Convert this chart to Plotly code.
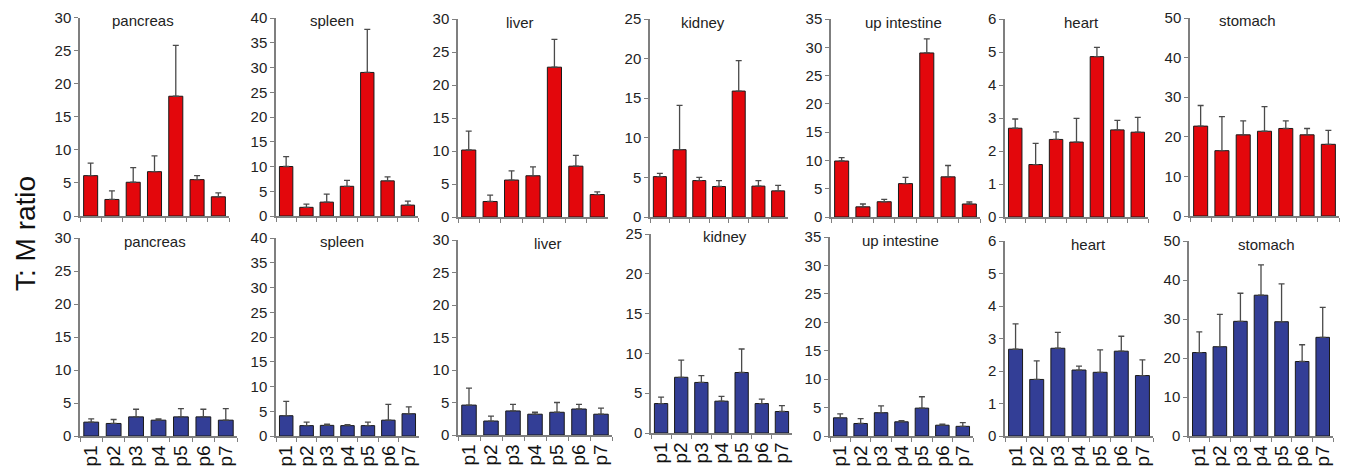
import plotly.graph_objects as go

W, H = 1351, 473
PAGE_PAD = 8  # default body margin of the html page

categories = ["p1", "p2", "p3", "p4", "p5", "p6", "p7"]
organs = ["pancreas", "spleen", "liver", "kidney", "up intestine", "heart", "stomach"]

# top row (red): bar values and upper whisker ends
top_vals = {
    "pancreas":     [6.1, 2.5, 5.1, 6.7, 18.1, 5.5, 2.9],
    "spleen":       [10.0, 1.75, 2.8, 6.0, 29.0, 7.1, 2.2],
    "liver":        [10.15, 2.35, 5.6, 6.25, 22.7, 7.7, 3.4],
    "kidney":       [5.1, 8.5, 4.6, 3.85, 15.9, 3.9, 3.3],
    "up intestine": [9.9, 1.8, 2.7, 5.9, 29.0, 7.1, 2.3],
    "heart":        [2.69, 1.59, 2.35, 2.27, 4.86, 2.64, 2.57],
    "stomach":      [22.7, 16.5, 20.5, 21.4, 22.1, 20.5, 18.1],
}
top_err = {
    "pancreas":     [8.0, 3.8, 7.3, 9.1, 25.8, 6.1, 3.5],
    "spleen":       [12.0, 2.4, 4.4, 7.2, 37.7, 7.9, 3.0],
    "liver":        [13.0, 3.3, 7.0, 7.6, 26.9, 9.35, 3.8],
    "kidney":       [5.5, 14.1, 5.0, 4.6, 19.75, 4.6, 4.0],
    "up intestine": [10.5, 2.3, 3.1, 7.0, 31.5, 9.1, 2.65],
    "heart":        [2.97, 2.23, 2.58, 2.99, 5.14, 2.93, 3.02],
    "stomach":      [27.9, 25.1, 24.0, 27.6, 24.0, 22.1, 21.6],
}
# bottom row (blue)
bot_vals = {
    "pancreas":     [2.1, 1.9, 2.9, 2.4, 2.9, 2.9, 2.4],
    "spleen":       [4.1, 2.1, 2.15, 2.1, 2.1, 3.2, 4.5],
    "liver":        [4.6, 2.15, 3.7, 3.2, 3.5, 4.0, 3.2],
    "kidney":       [3.7, 7.0, 6.35, 4.0, 7.6, 3.7, 2.7],
    "up intestine": [3.2, 2.2, 4.1, 2.5, 4.9, 1.9, 1.7],
    "heart":        [2.67, 1.74, 2.70, 2.03, 1.96, 2.61, 1.86],
    "stomach":      [21.4, 22.9, 29.4, 36.1, 29.3, 19.1, 25.3],
}
bot_err = {
    "pancreas":     [2.6, 2.5, 4.05, 2.6, 4.15, 4.05, 4.15],
    "spleen":       [7.0, 2.8, 2.4, 2.3, 2.8, 6.4, 5.9],
    "liver":        [7.2, 2.9, 4.7, 3.5, 5.0, 4.7, 4.15],
    "kidney":       [4.5, 9.15, 7.2, 4.6, 10.55, 4.25, 3.45],
    "up intestine": [3.9, 3.05, 5.3, 2.7, 6.9, 2.1, 2.35],
    "heart":        [3.45, 2.31, 3.19, 2.15, 2.65, 3.07, 2.34],
    "stomach":      [26.7, 31.2, 36.6, 43.9, 39.0, 23.4, 33.0],
}
y_max = {"pancreas": 30, "spleen": 40, "liver": 30, "kidney": 25,
         "up intestine": 35, "heart": 6, "stomach": 50}
y_step = {"pancreas": 5, "spleen": 5, "liver": 5, "kidney": 5,
          "up intestine": 5, "heart": 1, "stomach": 10}

# layout (screen pixel positions of the panels)
top_x = [(80, 229), (276, 418), (458, 608), (650, 788), (831, 980), (1005, 1148), (1190, 1339)]
bot_x = [(80, 237), (276, 419), (458, 612), (651, 792), (830, 973), (1005, 1153), (1189, 1333)]
top_y = [(216, 17.5), (216, 18), (217, 19), (217, 19), (217, 19), (217, 19), (216, 18)]
bot_y = [(436, 238), (436, 238), (435, 240), (433, 234), (436, 237), (436, 241), (436, 241)]
top_title_x = [143, 332, 520, 703, 903, 1081, 1247]
bot_title_x = [155, 342, 548, 725, 900, 1088, 1266]


def fx(px):
    return (px - PAGE_PAD) / W


def fy(py):
    return 1 - (py - PAGE_PAD) / H


RED = "#e3070c"
BLUE = "#333e96"
FONT = "Liberation Sans, Arial, sans-serif"

fig = go.Figure()
layout = dict(
    width=W, height=H, margin=dict(l=0, r=0, t=0, b=0, autoexpand=False),
    plot_bgcolor="white", paper_bgcolor="white",
    showlegend=False, bargap=0.34,
    font=dict(family=FONT, color="#222", size=15),
)
annotations = []


def add_panel(idx, organ, vals, errs, color, xpx, ypx, title_x, bottom):
    n = idx + 1
    xa = "x" if n == 1 else f"x{n}"
    ya = "y" if n == 1 else f"y{n}"
    fig.add_trace(go.Bar(
        x=categories, y=vals, xaxis=xa, yaxis=ya,
        marker=dict(color=color, line=dict(color="#1a1a1a", width=1)),
        error_y=dict(type="data", symmetric=False,
                     array=[e - v for e, v in zip(errs, vals)],
                     arrayminus=[0] * len(vals),
                     color="#4a4a4a", thickness=1.3, width=3),
    ))
    xkey = "xaxis" if n == 1 else f"xaxis{n}"
    ykey = "yaxis" if n == 1 else f"yaxis{n}"
    layout[xkey] = dict(
        domain=[fx(xpx[0]), fx(xpx[1])], anchor=ya, type="category",
        automargin=False,
        tickmode="array", tickvals=categories, ticktext=categories,
        showline=True, linecolor="#7f7f7f", linewidth=1.5,
        ticks="outside", tickson="boundaries", ticklen=4, tickcolor="#7f7f7f",
        showgrid=False, zeroline=False,
        showticklabels=bottom, tickangle=-90,
        tickfont=dict(size=19, family=FONT, color="#111"),
    )
    layout[ykey] = dict(
        domain=[fy(ypx[0]), fy(ypx[1])], anchor=xa,
        automargin=False,
        range=[0, y_max[organ]], dtick=y_step[organ], tick0=0,
        showline=True, linecolor="#7f7f7f", linewidth=1.5,
        ticks="outside", ticklen=4, tickcolor="#7f7f7f",
        showgrid=False, zeroline=False,
        tickfont=dict(size=15, family=FONT, color="#222"),
    )
    annotations.append(dict(
        text=organ, xref="paper", yref="paper",
        x=fx(title_x), y=fy(ypx[1] + 3),
        xanchor="center", yanchor="middle", showarrow=False,
        font=dict(size=15, family=FONT, color="#222"),
    ))


for i, organ in enumerate(organs):
    add_panel(i, organ, top_vals[organ], top_err[organ], RED,
              top_x[i], top_y[i], top_title_x[i], False)
for i, organ in enumerate(organs):
    add_panel(i + 7, organ, bot_vals[organ], bot_err[organ], BLUE,
              bot_x[i], bot_y[i], bot_title_x[i], True)

annotations.append(dict(
    text="T: M ratio", xref="paper", yref="paper",
    x=fx(25), y=fy(234), xanchor="center", yanchor="middle",
    textangle=-90, showarrow=False,
    font=dict(size=28, family=FONT, color="#111"),
))
layout["annotations"] = annotations
fig.update_layout(**layout)
fig.write_html("out.html")
